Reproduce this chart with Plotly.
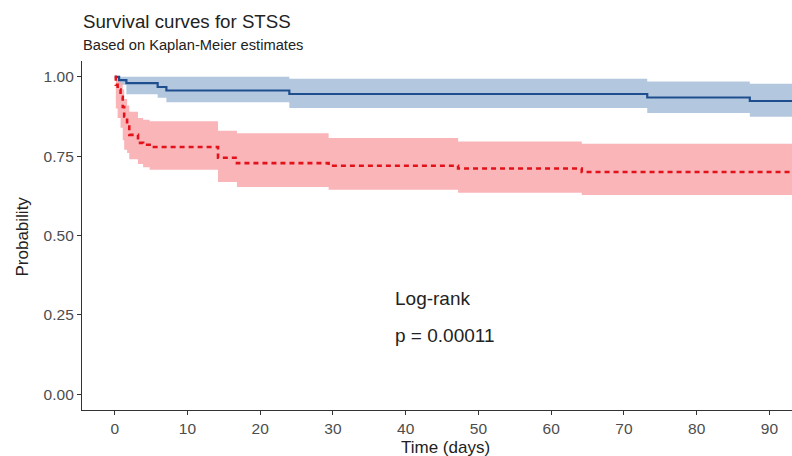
import plotly.graph_objects as go

# Blue group (upper curve)
blue_time = [0, 0.6, 1.6, 5.9, 7.1, 24.0, 73.2, 87.3, 93.1]
blue_surv = [1.0, 0.99, 0.98, 0.968, 0.957, 0.946, 0.935, 0.924, 0.924]
blue_upper = [1.0, 1.0, 1.0, 1.0, 1.0, 0.994, 0.985, 0.978, 0.978]
blue_lower = [1.0, 0.975, 0.945, 0.934, 0.92, 0.902, 0.886, 0.874, 0.874]

# Red group (lower curve)
red_time = [0, 0.15, 0.4, 0.8, 1.1, 1.3, 1.7, 2.0, 3.2, 3.9, 4.8, 14.2, 16.8, 29.4, 47.2, 64.2, 93.1]
red_surv = [1.0, 0.975, 0.96, 0.937, 0.905, 0.875, 0.85, 0.817, 0.792, 0.786, 0.779,
            0.745, 0.728, 0.72, 0.711, 0.70, 0.70]
red_upper = [1.0, 1.0, 0.99, 0.98, 0.96, 0.93, 0.91, 0.89, 0.87, 0.865, 0.86,
             0.83, 0.822, 0.807, 0.796, 0.789, 0.789]
red_lower = [1.0, 0.90, 0.87, 0.84, 0.80, 0.77, 0.76, 0.74, 0.725, 0.715, 0.707,
             0.669, 0.653, 0.644, 0.635, 0.628, 0.628]

x_ticks = [0, 10, 20, 30, 40, 50, 60, 70, 80, 90]
y_ticks = [0.0, 0.25, 0.5, 0.75, 1.0]
y_tick_labels = ["0.00", "0.25", "0.50", "0.75", "1.00"]

title_text = "Survival curves for STSS"
subtitle_text = "Based on Kaplan-Meier estimates"
logrank_text = "Log-rank"
pval_text = "p = 0.00011"
x_title = "Time (days)"
y_title = "Probability"

BLUE_LINE = "#1f4e8f"
BLUE_FILL = "rgba(160,186,214,0.8)"
RED_LINE = "#e3121a"
RED_FILL = "rgba(248,168,172,0.85)"

W, H = 792, 456
ML, MR, MT, MB = 82, 0, 61, 46
PH = H - MT - MB
PW = W - ML - MR

def px_to_paper_y(py):
    return (H - MB - py) / PH

def px_to_paper_x(px):
    return (px - ML) / PW

fig = go.Figure()

def band(t, lo, hi, fill):
    fig.add_trace(go.Scatter(x=t, y=lo, mode="lines", line=dict(width=0, shape="hv"),
                             hoverinfo="skip", showlegend=False))
    fig.add_trace(go.Scatter(x=t, y=hi, mode="lines", line=dict(width=0, shape="hv"),
                             fill="tonexty", fillcolor=fill, hoverinfo="skip", showlegend=False))

band(blue_time, blue_lower, blue_upper, BLUE_FILL)
band(red_time, red_lower, red_upper, RED_FILL)

fig.add_trace(go.Scatter(x=blue_time, y=blue_surv, mode="lines",
                         line=dict(color=BLUE_LINE, width=2.2, shape="hv"), showlegend=False))
fig.add_trace(go.Scatter(x=red_time, y=red_surv, mode="lines",
                         line=dict(color=RED_LINE, width=2.6, shape="hv", dash="5px,4px"),
                         showlegend=False))

FF = "Liberation Sans, Arial, sans-serif"

fig.add_annotation(x=38.2, y=0.30, xref="x", yref="y", text=logrank_text, showarrow=False,
                   xanchor="left", yanchor="middle", font=dict(size=19, color="#222", family=FF))
fig.add_annotation(x=38.2, y=0.186, xref="x", yref="y", text=pval_text, showarrow=False,
                   xanchor="left", yanchor="middle", font=dict(size=19, color="#222", family=FF))

fig.add_annotation(x=px_to_paper_x(81), y=px_to_paper_y(21), xref="paper", yref="paper",
                   text=title_text, showarrow=False, xanchor="left", yanchor="middle",
                   font=dict(size=18.7, color="#222", family=FF))
fig.add_annotation(x=px_to_paper_x(81), y=px_to_paper_y(45), xref="paper", yref="paper",
                   text=subtitle_text, showarrow=False, xanchor="left", yanchor="middle",
                   font=dict(size=14.7, color="#222", family=FF))
fig.add_annotation(x=px_to_paper_x(21.5), y=px_to_paper_y(237), xref="paper", yref="paper",
                   text=y_title, showarrow=False, textangle=-90, xanchor="center", yanchor="middle",
                   font=dict(size=17, color="#222", family=FF))
fig.add_annotation(x=px_to_paper_x(445.5), y=px_to_paper_y(447), xref="paper", yref="paper",
                   text=x_title, showarrow=False, xanchor="center", yanchor="middle",
                   font=dict(size=17, color="#222", family=FF))

fig.update_layout(
    width=W, height=H,
    margin=dict(l=ML, r=MR, t=MT, b=MB, autoexpand=False),
    paper_bgcolor="white", plot_bgcolor="white",
    font=dict(family=FF, color="#333"),
    hovermode=False,
    xaxis=dict(
        range=[-4.5, 93.1], tickvals=x_ticks, ticks="outside", ticklen=4, tickcolor="#333",
        showline=True, linecolor="#333", linewidth=1.3, showgrid=False, zeroline=False,
        tickfont=dict(size=15.5, color="#4d4d4d"), automargin=False,
    ),
    yaxis=dict(
        range=[-0.05, 1.05], tickvals=y_ticks, ticktext=y_tick_labels, ticks="outside",
        ticklen=4, tickcolor="#333", showline=True, linecolor="#333", linewidth=1.3,
        showgrid=False, zeroline=False, tickfont=dict(size=15.5, color="#4d4d4d"),
        automargin=False,
    ),
)

fig.write_html("out.html", config={"displayModeBar": False},
               post_script="document.body.style.margin='0';document.body.style.overflow='hidden';")
